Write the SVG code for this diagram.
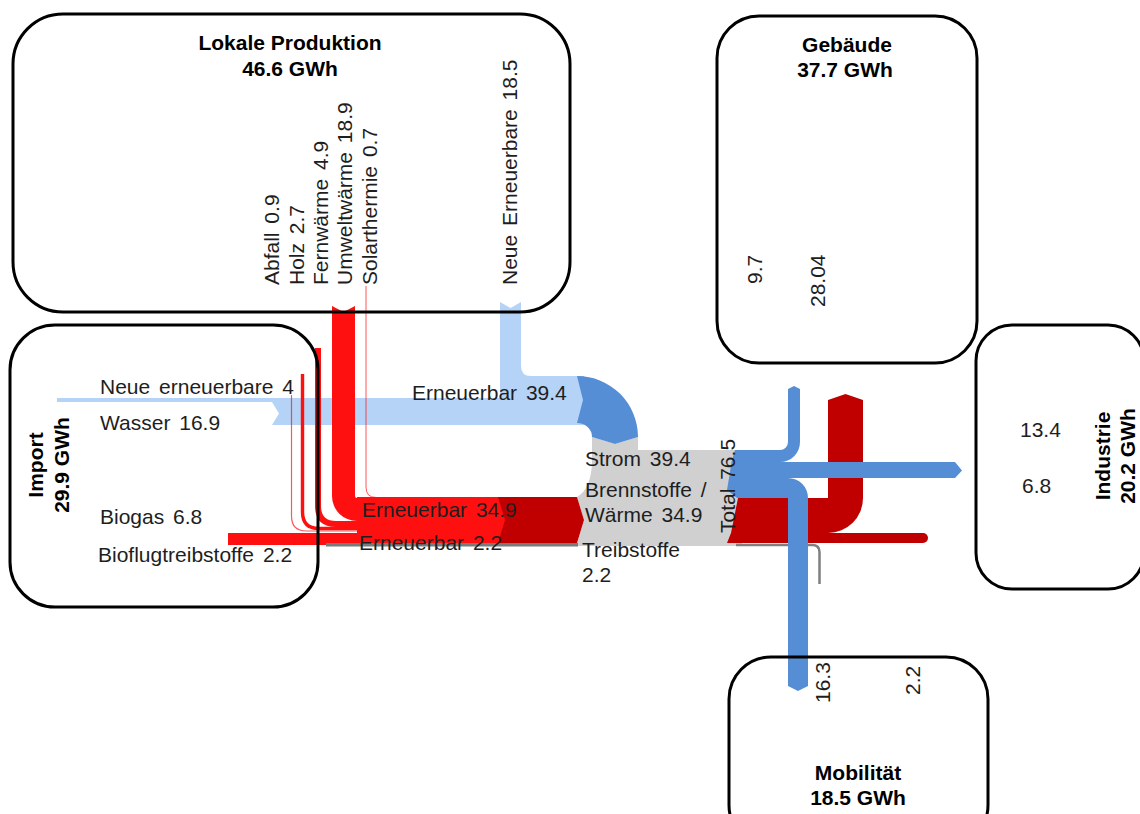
<svg xmlns="http://www.w3.org/2000/svg" width="1140" height="814" viewBox="0 0 1140 814">
<style>
text{font-family:"Liberation Sans",Arial,sans-serif;font-size:21px;fill:#1e1e1e;word-spacing:3px}
.b{font-weight:bold;text-anchor:middle;fill:#000;word-spacing:0}
.bx{fill:none;stroke:#000;stroke-width:3}
.lb{fill:#b5d3f6}
.db{fill:#558ed5}
.gr{fill:#d0d0d0}
.rd{fill:#ff1010}
.dr{fill:#c00000}
.rl{fill:none;stroke:#ff1010}
.gl{fill:none;stroke:#7f7f7f}
</style>
<rect width="1140" height="814" fill="#fff"/>
<g id="connectors">
  <!-- light blue: import + local new renewables -->
  <path class="lb" d="M57,398 H584 V425 H272 L279,413.5 L272,402 H57 Z"/>
  <path class="lb" d="M500,302 L510.5,308 L521,302 V366 Q521,376 531,376 H584 V400 H500 Z"/>
  <!-- gray junction -->
  <path class="gr" d="M592,437 L615,444 L638,437 V450 H742 V546 H577 V543 L584,520 L577,497 C586,492 592,480 592,460 Z"/>
  <!-- dark blue bend -->
  <path class="db" d="M577,376 A61,61 0 0 1 638,437 L615,444 L592,437 A15,14 0 0 0 577,423 L583,400 Z"/>
  <!-- red flows from local production -->
  <path class="rl" stroke-width="1" stroke-opacity="0.7" d="M366,286 V487 Q366,497.5 376,497.5 H400"/>
  <path class="rd" d="M332,306 L343.5,312 L355,306 V496 A2,2 0 0 0 357,498 H362 V521 H357 A25,25 0 0 1 332,496 Z"/>
  <path class="rl" stroke-width="6" d="M318,348 V506 Q318,524 336,524 H362"/>
  <path class="rl" stroke-width="3.4" d="M302.5,374 V512 Q302.5,528.5 319,528.5 H362"/>
  <path class="rl" stroke-width="1.2" stroke-opacity="0.7" d="M291.5,395 V516 Q291.5,531 306.5,531 H362"/>
  <!-- import red -->
  <rect class="rd" x="228" y="533" width="134" height="12"/>
  <!-- horizontal renewable band -->
  <rect class="rd" x="357" y="497" width="149" height="46"/>
  <path class="dr" d="M498,497 H577 L584,520 L577,543 H498 L505,520 Z"/>
  <rect x="326" y="543" width="252" height="3.5" fill="#7a7a7a"/>
  <!-- right side red -->
  <path class="dr" d="M738,498 H828 V400 L845.5,394 L863,400 V498 A35,35 0 0 1 828,533 H731 Z"/>
  <path class="dr" d="M731,533 H923 A5,5 0 0 1 923,543 H727 Z"/>
  <path class="gl" stroke-width="2.5" d="M736,545 H812 Q819.5,545 819.5,552 V584"/>
  <!-- right side blue -->
  <path class="db" d="M735,450 H780 A8,8 0 0 0 788,442 V389 L794,386 L800,389 V442 A20,20 0 0 1 780,462 H731.5 Z"/>
  <path class="db" d="M731.5,462 H955 L962,470.5 L955,478 H729 Z"/>
  <path class="db" d="M729,478 H788 A20,20 0 0 1 808,498 V686 L798,691 L788,686 V498 H737 L727,490 Z"/>
</g>
<g id="lokale-produktion">
  <rect class="bx" x="13" y="14" width="557" height="298" rx="50"/>
  <text class="b" x="290" y="50">Lokale Produktion</text>
  <text class="b" x="290" y="76">46.6 GWh</text>
  <text transform="translate(279,285) rotate(-90)">Abfall 0.9</text>
  <text transform="translate(304,285) rotate(-90)">Holz 2.7</text>
  <text transform="translate(328,285) rotate(-90)">Fernwärme 4.9</text>
  <text transform="translate(352,285) rotate(-90)">Umweltwärme 18.9</text>
  <text transform="translate(377,285) rotate(-90)">Solarthermie 0.7</text>
  <text transform="translate(517,285) rotate(-90)">Neue Erneuerbare 18.5</text>
</g>
<g id="import">
  <rect class="bx" x="10" y="325" width="308" height="282" rx="45"/>
  <text class="b" transform="translate(43,465) rotate(-90)">Import</text>
  <text class="b" transform="translate(69,465) rotate(-90)">29.9 GWh</text>
  <text x="100" y="394">Neue erneuerbare 4</text>
  <text x="100" y="430">Wasser 16.9</text>
  <text x="100" y="524">Biogas 6.8</text>
  <text x="98" y="562">Bioflugtreibstoffe 2.2</text>
</g>
<g id="gebaeude">
  <rect class="bx" x="717" y="16" width="260" height="347" rx="42"/>
  <text class="b" x="847" y="52">Gebäude</text>
  <text class="b" x="845" y="77">37.7 GWh</text>
  <text transform="translate(762,284) rotate(-90)">9.7</text>
  <text transform="translate(825,307) rotate(-90)">28.04</text>
</g>
<g id="industrie">
  <rect class="bx" x="976" y="325" width="168" height="264" rx="36"/>
  <text class="b" transform="translate(1110,456) rotate(-90)">Industrie</text>
  <text class="b" transform="translate(1135,456) rotate(-90)">20.2 GWh</text>
  <text x="1020" y="437">13.4</text>
  <text x="1022" y="493">6.8</text>
</g>
<g id="mobilitaet">
  <rect class="bx" x="729" y="657" width="259" height="190" rx="42"/>
  <text class="b" x="858" y="780">Mobilität</text>
  <text class="b" x="858" y="805">18.5 GWh</text>
  <text transform="translate(830,703) rotate(-90)">16.3</text>
  <text transform="translate(920,695) rotate(-90)">2.2</text>
</g>
<g id="flow-labels">
  <text x="412" y="400">Erneuerbar 39.4</text>
  <text x="362" y="517">Erneuerbar 34.9</text>
  <text x="359" y="550">Erneuerbar 2.2</text>
  <text x="585" y="466">Strom 39.4</text>
  <text x="585" y="497">Brennstoffe /</text>
  <text x="585" y="522">Wärme 34.9</text>
  <text x="582" y="557">Treibstoffe</text>
  <text x="582" y="582">2.2</text>
  <text transform="translate(735,533) rotate(-90)">Total 76.5</text>
</g>
</svg>
